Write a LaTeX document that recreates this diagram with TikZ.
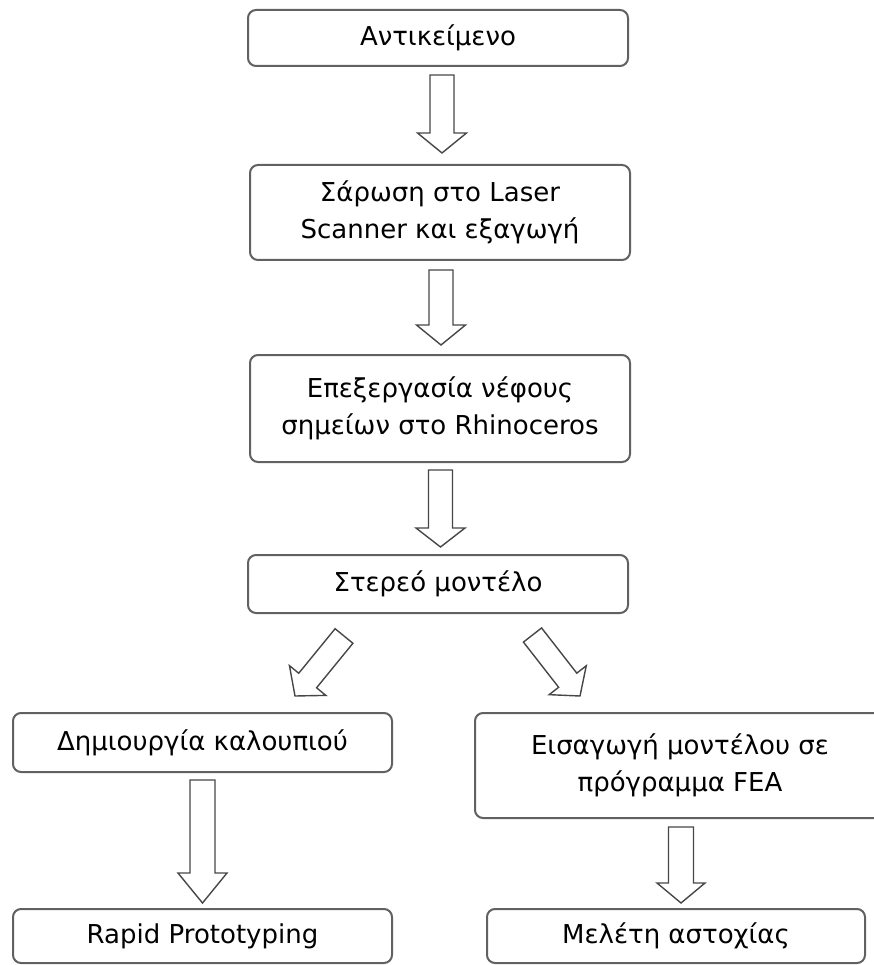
\documentclass[tikz,border=0pt]{standalone}
\usepackage{fontspec}
\setmainfont{DejaVu Sans}
\usetikzlibrary{calc}
\newcommand\barrow[5]{% #1 from, #2 to, #3 head length, #4 shaft half width, #5 head half width
  \coordinate (hb) at ($(#2)!#3!(#1)$);
  \draw[arrowline] ($(#1)!#4!90:(#2)$) -- ($(hb)!#4!90:(#2)$) -- ($(hb)!#5!90:(#2)$) -- (#2)
    -- ($(hb)!#5!-90:(#2)$) -- ($(hb)!#4!-90:(#2)$) -- ($(#1)!#4!-90:(#2)$) -- cycle;}
\tikzset{
  box/.style={draw=black!62, line width=2pt, rounded corners=8pt, fill=white,
    align=center, inner sep=0pt, minimum width=380pt,
    font=\fontsize{26}{37}\selectfont},
  arrowline/.style={draw=black!72, line width=1.4pt, fill=white, line join=miter}
}
\begin{document}
\begin{tikzpicture}[x=1pt,y=1pt]
\useasboundingbox[fill=white] (0,0) rectangle (873,-965);
\node[box, minimum height=56pt] (b1) at (438,-38) {Αντικείμενο};
\node[box, minimum height=95pt] (b2) at (440,-212.5) {Σάρωση στο Laser\\Scanner και εξαγωγή};
\node[box, minimum height=107pt] (b3) at (440,-408.5) {Επεξεργασία νέφους\\σημείων στο Rhinoceros};
\node[box, minimum height=58pt] (b4) at (438,-584) {Στερεό μοντέλο};
\node[box, minimum width=379pt, minimum height=59pt] (b5) at (202.5,-742.5) {Δημιουργία καλουπιού};
\node[box, minimum width=410pt, minimum height=105pt] (b6) at (680,-765.5) {Εισαγωγή μοντέλου σε\\πρόγραμμα FEA};
\node[box, minimum width=379pt, minimum height=54pt] (b7) at (202.5,-936) {Rapid Prototyping};
\node[box, minimum width=378pt, minimum height=54pt] (b8) at (676,-936) {Μελέτη αστοχίας};
% arrow end points
\coordinate (a1s) at (442,-75);   \coordinate (a1e) at (442,-153);
\coordinate (a2s) at (441,-270);  \coordinate (a2e) at (441,-345);
\coordinate (a3s) at (440.5,-470);\coordinate (a3e) at (440.5,-547);
\coordinate (a4s) at (344,-636);  \coordinate (a4e) at (295,-696);
\coordinate (a5s) at (532.5,-635);\coordinate (a5e) at (580,-696);
\coordinate (a6s) at (202.5,-780);\coordinate (a6e) at (202.5,-903);
\coordinate (a7s) at (681,-827);  \coordinate (a7e) at (681,-903);
\barrow{a1s}{a1e}{20pt}{12pt}{24.5pt}
\barrow{a2s}{a2e}{20pt}{12pt}{24.5pt}
\barrow{a3s}{a3e}{19pt}{12pt}{24.5pt}
\barrow{a4s}{a4e}{20pt}{11.5pt}{23.5pt}
\barrow{a5s}{a5e}{20pt}{11.5pt}{23.5pt}
\barrow{a6s}{a6e}{30pt}{12.5pt}{24.5pt}
\barrow{a7s}{a7e}{20pt}{12.5pt}{24pt}
\end{tikzpicture}
\end{document}
